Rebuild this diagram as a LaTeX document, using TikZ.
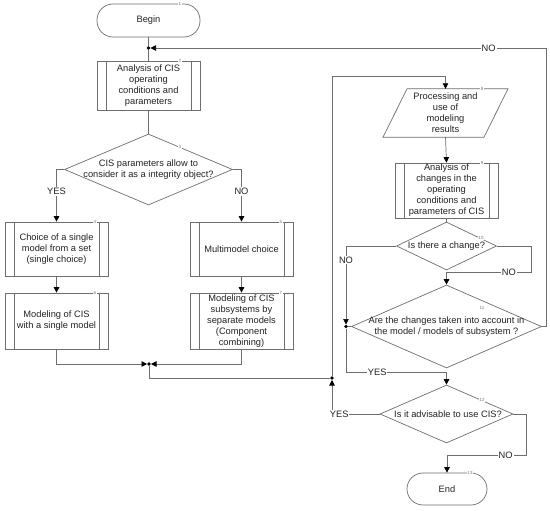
\documentclass[tikz,border=0pt]{standalone}
\usepackage{fontspec}
\setmainfont{Liberation Sans}
\usetikzlibrary{arrows.meta,shapes.geometric,calc}
\definecolor{lc}{RGB}{110,110,110}
\definecolor{tc}{RGB}{35,35,35}
\begin{document}
\begin{tikzpicture}[x=1pt,y=-1pt,
  line/.style={draw=lc, line width=0.7pt},
  arr/.style={line, -{Triangle[width=5.5pt,length=5.5pt,color=black]}},
  txt/.style={text=tc, font=\fontsize{9.3}{11}\selectfont, align=center, inner sep=0pt},
  term/.style={line, txt, rectangle, rounded corners=16pt},
  proc/.style={line, txt, rectangle, minimum width=103pt,
    path picture={\draw[lc, line width=0.7pt]
      ([xshift=9pt]path picture bounding box.north west) -- ([xshift=9pt]path picture bounding box.south west)
      ([xshift=-9pt]path picture bounding box.north east) -- ([xshift=-9pt]path picture bounding box.south east);}},
  dia/.style={line, diamond, inner sep=0pt, shape aspect=1},
  dot/.style={circle, fill=black, inner sep=0pt, minimum size=3.6pt},
  num/.style={font=\fontsize{4.5}{4.5}\selectfont, text=gray!90!black, fill=white, inner sep=0.8pt},
  lab/.style={txt, fill=white, inner sep=1pt}]
\fill[white] (0,0) rectangle (550,511);
\useasboundingbox (0,0) rectangle (550,511);

% nodes
\node[term, minimum width=103pt, minimum height=33pt] (begin) at (148.5,20.5) {Begin};
\node[dot] (j1) at (148.5,48) {};
\node[proc, minimum height=49pt] (b2) at (148.5,85.5) {Analysis of CIS\\operating\\conditions and\\parameters};
\node[dia, minimum width=168pt, minimum height=71pt] (d3) at (148.5,169.5) {};
\node[txt] (t3) at (d3) {CIS parameters allow to\\consider it as a integrity object?};
\node[proc, minimum height=54pt] (b4) at (56.5,249) {Choice of a single\\model from a set\\(single choice)};
\node[proc, minimum height=54pt] (b5) at (241.5,249) {Multimodel choice};
\node[proc, minimum height=56pt] (b6) at (56.5,321) {Modeling of CIS\\with a single model};
\node[proc, minimum height=56pt] (b7) at (241.5,321) {Modeling of CIS\\subsystems by\\separate models\\(Component\\combining)};
\node[dot] (j2) at (149,364) {};
\node[dot] (j3) at (332,378) {};
\node[txt, minimum width=80pt, minimum height=48pt] (b8) at (445.5,113) {Processing and\\use of\\modeling\\results};
\draw[line] ([xshift=-38.5pt]b8.north) -- ([xshift=62.5pt]b8.north) -- ([xshift=38.5pt]b8.south) -- ([xshift=-62.5pt]b8.south) -- cycle;
\node[proc, minimum height=55pt] (b9) at (446.5,190.5) {Analysis of\\changes in the\\operating\\conditions and\\parameters of CIS};
\node[dia, minimum width=100pt, minimum height=48pt] (d10) at (446.5,246) {};
\node[txt] (t10) at (d10) {Is there a change?};
\node[dia, minimum width=190pt, minimum height=83pt] (d11) at (446.5,326.5) {};
\node[txt] (t11) at (d11) {Are the changes taken into account in\\the model / models of subsystem ?};
\node[dot] (j4) at (346,326.5) {};
\node[dia, minimum width=133pt, minimum height=58pt] (d12) at (446.5,414) {};
\node[txt] (t12) at ([xshift=1.5pt]d12.center) {Is it advisable to use CIS?};
\node[term, minimum width=80pt, minimum height=32pt] (endn) at (447,489) {End};

% helper coordinates
\coordinate (c8) at ($(b8.north)+(0,-12)$);
\coordinate (c11) at ($(d11.north)+(0,-12)$);
\coordinate (c12) at ($(d12.north)+(0,-12)$);
\coordinate (c13) at ($(endn.north)+(0,-17)$);

% connectors
\draw[line] (begin) -- (j1);
\draw[line] (j1) -- (b2);
\draw[arr] (d11.east) -- ++(4.5,0) |- (j1) node[lab,pos=0.573]{NO};
\draw[line] (b2) -- (d3.north);
\draw[arr] (d3.west) -| (b4.north) node[lab,pos=0.71]{YES};
\draw[arr] (d3.east) -| (b5.north) node[lab,pos=0.71]{NO};
\draw[arr] (b4) -- (b6);
\draw[arr] (b5) -- (b7);
\draw[arr] (b6.south) |- (j2);
\draw[arr] (b7.south) |- (j2);
\draw[line] (j2) |- (j3);
\draw[arr] (j3) |- (c8) -- (b8.north);
\draw[arr] (b8.south) -- (b9.north);
\draw[line] (b9) -- (d10.north);
\draw[arr] (d10.west) -| (j4) node[lab,pos=0.59]{NO};
\draw[arr] (d10.east) -- ++(34,0) |- (c11) node[lab,pos=0.63]{NO} -- (d11.north);
\draw[line] (d11.west) -- (j4);
\draw[arr] (j4) |- (c12) node[lab,pos=0.655]{YES} -- (d12.north);
\draw[arr] (d12.west) -| (j3) node[lab,pos=0.425]{YES};
\draw[arr] (d12.east) -- ++(13,0) |- (c13) node[lab,pos=0.63]{NO} -- (endn.north);

% numbers
\node[num] (n1) at (180,4) {1};
\node[num] (n2) at (180,61) {2};
\node[num] (n3) at (180,147) {3};
\node[num] (n4) at (95,222) {4};
\node[num] (n5) at (281,222) {5};
\node[num] (n6) at (95,293) {6};
\node[num] (n7) at (281,293) {7};
\node[num] (n8) at (482,89) {8};
\node[num] (n9) at (482,163) {9};
\node[num] (n10) at (481,238) {10};
\node[num] (n11) at (482,308) {11};
\node[num] (n12) at (482,400) {12};
\node[num] (n13) at (470,473) {13};
\end{tikzpicture}
\end{document}
